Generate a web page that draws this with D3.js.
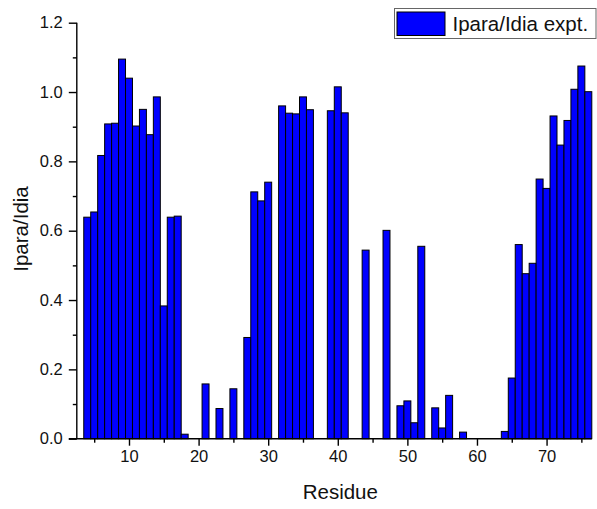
<!DOCTYPE html>
<html>
<head>
<meta charset="utf-8">
<script src="https://cdn.jsdelivr.net/npm/d3@7"></script>
<style>
  html, body { margin: 0; padding: 0; background: #fff; }
  svg { display: block; font-family: Arial, "Liberation Sans", sans-serif; }
</style>
</head>
<body>
<svg id="chart" width="597" height="509"></svg>
<script>
// Paramagnetic intensity ratio per residue
const residues = [4, 5, 6, 7, 8, 9, 10, 11, 12, 13, 14, 15, 16, 17, 18,
  21, 23, 25, 27, 28, 29, 30, 32, 33, 34, 35, 36, 39, 40, 41,
  44, 47, 49, 50, 51, 52, 54, 55, 56, 58,
  64, 65, 66, 67, 68, 69, 70, 71, 72, 73, 74, 75, 76];
const ratios = [0.639, 0.654, 0.817, 0.908, 0.910, 1.095, 1.040, 0.902, 0.950, 0.877, 0.986, 0.383, 0.639, 0.642, 0.013,
  0.158, 0.087, 0.144, 0.292, 0.712, 0.686, 0.740, 0.960, 0.939, 0.937, 0.986, 0.949, 0.946, 1.015, 0.940,
  0.544, 0.601, 0.095, 0.109, 0.046, 0.555, 0.089, 0.031, 0.125, 0.019,
  0.021, 0.175, 0.560, 0.476, 0.506, 0.749, 0.722, 0.931, 0.847, 0.918, 1.008, 1.075, 1.001];
const xMajorTicks = [10, 20, 30, 40, 50, 60, 70];
const xMinorTicks = [5, 15, 25, 35, 45, 55, 65, 75];
const yMajorTicks = [0, 0.2, 0.4, 0.6, 0.8, 1.0, 1.2];
const yMinorTicks = [0.1, 0.3, 0.5, 0.7, 0.9, 1.1];
const seriesName = "Ipara/Idia expt.";
const xTitle = "Residue";
const yTitle = "Ipara/Idia";

const svg = d3.select("#chart");
const plot = { left: 76.8, right: 591.8, top: 22.7, bottom: 438.7 };

const x = d3.scaleLinear().domain([2.5, 76.5]).range([plot.left, plot.right]);
const y = d3.scaleLinear().domain([0, 1.2]).range([plot.bottom, plot.top]);

const data = residues.map((r, i) => ({ r, v: ratios[i] }));

// bars, one residue wide
svg.append("g")
  .selectAll("rect")
  .data(data)
  .join("rect")
  .attr("x", d => x(d.r - 0.5))
  .attr("width", d => x(d.r + 0.5) - x(d.r - 0.5))
  .attr("y", d => y(d.v))
  .attr("height", d => y(0) - y(d.v))
  .attr("fill", "#0000ff")
  .attr("stroke", "#000")
  .attr("stroke-width", 1);

// x axis
const xAxis = svg.append("g")
  .attr("transform", `translate(0,${plot.bottom})`)
  .call(d3.axisBottom(x).tickValues(xMajorTicks).tickFormat(d3.format("d")).tickSize(7).tickPadding(5));
const xMinor = svg.append("g")
  .attr("transform", `translate(0,${plot.bottom})`)
  .call(d3.axisBottom(x).tickValues(xMinorTicks).tickFormat("").tickSize(4));
xMinor.select(".domain").remove();

// y axis
const yAxis = svg.append("g")
  .attr("transform", `translate(${plot.left},0)`)
  .call(d3.axisLeft(y).tickValues(yMajorTicks).tickFormat(d3.format(".1f")).tickSize(8).tickPadding(6));
const yMinor = svg.append("g")
  .attr("transform", `translate(${plot.left},0)`)
  .call(d3.axisLeft(y).tickValues(yMinorTicks).tickFormat("").tickSize(4));
yMinor.select(".domain").remove();

// x baseline starts at the y-axis zero tick, which extends out to the left
xAxis.select(".domain").attr("d", `M${plot.left - 8},0H${plot.right}`);
yAxis.select(".domain").attr("d", `M0,${plot.bottom}V${plot.top}`);

svg.selectAll(".domain").attr("stroke", "#000").attr("stroke-width", 1.4);
svg.selectAll(".tick line").attr("stroke", "#000").attr("stroke-width", 1.4);
svg.selectAll(".tick text")
  .attr("font-size", 16.5)
  .attr("font-family", "Arial, 'Liberation Sans', sans-serif")
  .attr("fill", "#111");

// axis titles
svg.append("text")
  .attr("x", (plot.left + plot.right) / 2 + 6)
  .attr("y", 499)
  .attr("text-anchor", "middle")
  .attr("font-size", 20.5)
  .attr("fill", "#111")
  .text(xTitle);

svg.append("text")
  .attr("transform", `translate(28,229) rotate(-90)`)
  .attr("text-anchor", "middle")
  .attr("font-size", 20.5)
  .attr("fill", "#111")
  .text(yTitle);

// legend
const lg = svg.append("g");
lg.append("rect")
  .attr("x", 394.5).attr("y", 8.5)
  .attr("width", 201.5).attr("height", 30)
  .attr("fill", "#fff").attr("stroke", "#666").attr("stroke-width", 1);
lg.append("rect")
  .attr("x", 397).attr("y", 12)
  .attr("width", 48).attr("height", 23.5)
  .attr("fill", "#0000ff").attr("stroke", "#000").attr("stroke-width", 1);
lg.append("text")
  .attr("x", 452.5).attr("y", 30.5)
  .attr("font-size", 20.5)
  .attr("fill", "#111")
  .text(seriesName);
</script>
</body>
</html>
